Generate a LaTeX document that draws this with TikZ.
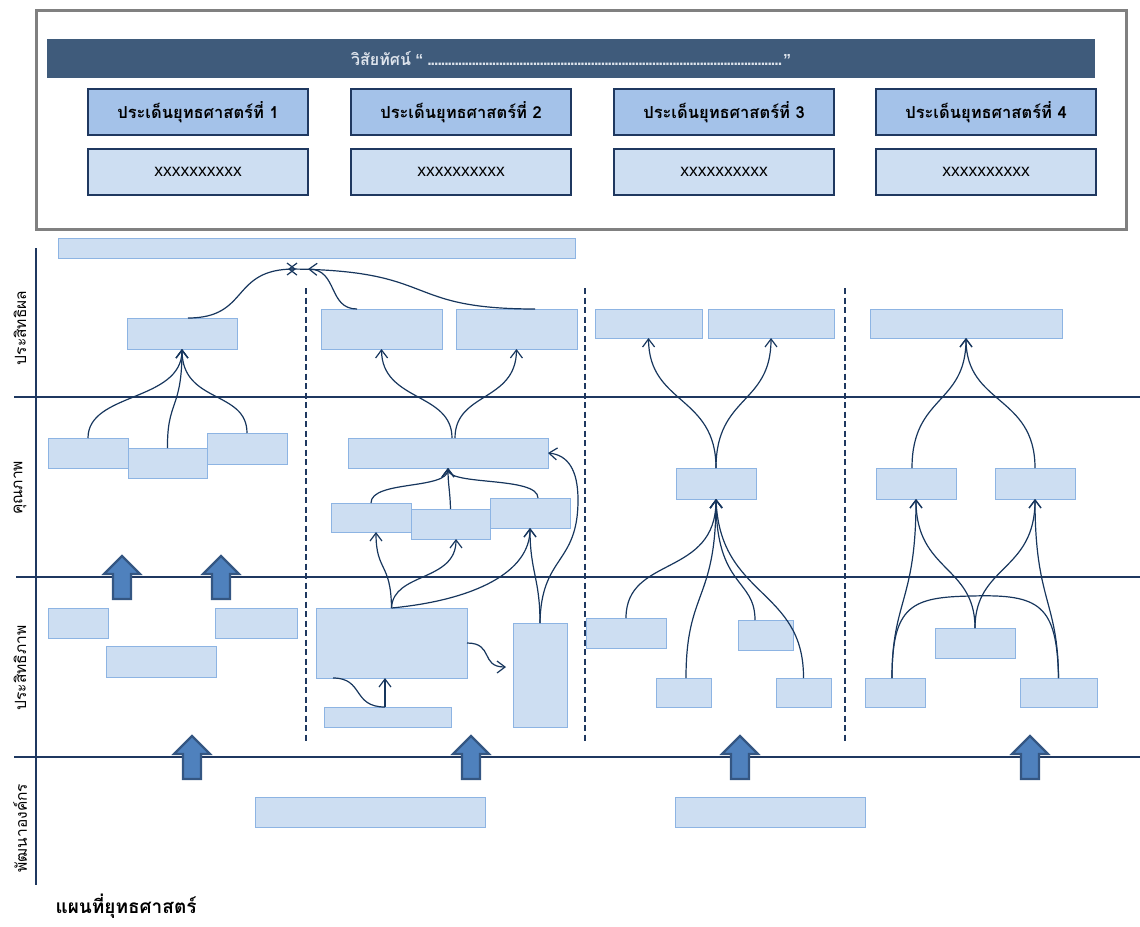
\documentclass[tikz,border=0pt]{standalone}
\usepackage{fontspec}
\setmainfont{Liberation Sans}
\newfontfamily\thaifont[Script=Thai]{Loma}
\usepackage{tikz}
\usetikzlibrary{arrows.meta, calc}
\definecolor{navy}{RGB}{31,56,96}
\definecolor{linkcol}{RGB}{23,54,93}
\definecolor{framegray}{RGB}{128,128,128}
\definecolor{banner}{RGB}{63,91,123}
\definecolor{bannertext}{RGB}{222,228,236}
\definecolor{headfill}{RGB}{164,194,233}
\definecolor{boxfill}{RGB}{205,222,242}
\definecolor{boxline}{RGB}{141,180,227}
\definecolor{arrowfill}{RGB}{79,129,189}
\definecolor{arrowline}{RGB}{52,86,130}

\begin{document}
\begin{tikzpicture}[x=1pt, y=-1pt,
    box/.style={draw=boxline, fill=boxfill, line width=1pt, inner sep=0pt, outer sep=0pt},
    headbox/.style={draw=navy, fill=headfill, line width=1.2pt, inner sep=0pt,
      minimum width=220pt, minimum height=46pt, font=\thaifont\bfseries\fontsize{16.5}{19}\selectfont},
    goalbox/.style={draw=navy, fill=boxfill, line width=1.2pt, inner sep=0pt,
      minimum width=220pt, minimum height=46pt, font=\fontsize{17.5}{20}\selectfont},
    rowlabel/.style={rotate=90, font=\thaifont\fontsize{15.5}{18}\selectfont},
    gridline/.style={draw=navy, line width=2.6pt},
    splitline/.style={draw=navy, line width=2.4pt, dash pattern=on 6pt off 3.5pt},
    link/.style={draw=linkcol, line width=1.2pt},
    arr/.style={link, -{Straight Barb[length=8pt,width=12pt]}},
    blockarrow/.style={fill=arrowfill, draw=arrowline, line width=2.2pt, line join=miter}
  ]
  \useasboundingbox (0,0) rectangle (1140,926);

  % Vision and strategic issues
  \node[draw=framegray, line width=3pt, minimum width=1090pt, minimum height=219pt, inner sep=0pt] (frame) at (581,119.5) {};
  \node[fill=banner, minimum width=1048pt, minimum height=39pt, inner sep=0pt, text=bannertext,
        font=\fontsize{16}{19}\selectfont\bfseries] (vision) at (571,58.5)
    {{\thaifont วิสัยทัศน์} “ \hbox to 355pt{\leaders\hbox to 3.4pt{\hss.\hss}\hfill}”};
  \foreach \i/\cx in {1/198, 2/461, 3/724, 4/986} {
    \node[headbox] (head\i) at (\cx,112) {ประเด็นยุทธศาสตร์ที่ \i};
    \node[goalbox] (goal\i) at (\cx,172) {xxxxxxxxxx};
  }

  % Grid of perspectives
  \draw[gridline] (36,248) -- (36,885);
  \draw[gridline] (14,397) -- (1140,397);
  \draw[gridline] (16,577) -- (1140,577);
  \draw[gridline] (14,757) -- (1140,757);
  \foreach \sx in {306, 585, 845}
    \draw[splitline] (\sx,288) -- (\sx,742);

  % Row labels
  \node[rowlabel] (lab1) at (20,328) {ประสิทธิผล};
  \node[rowlabel] (lab2) at (20,488) {คุณภาพ};
  \node[rowlabel] (lab3) at (20,668) {ประสิทธิภาพ};
  \node[rowlabel] (lab4) at (20,828) {พัฒนาองค์กร};

  \node[box, minimum width=517pt, minimum height=20pt] (topbar) at (316.5,248) {};

  % Issue 1
  \node[box, minimum width=110pt, minimum height=31pt] (e1) at (182,333.5) {};
  \node[box, minimum width=80pt, minimum height=30pt] (q1a) at (88,453) {};
  \node[box, minimum width=79pt, minimum height=30pt] (q1b) at (167.5,463) {};
  \node[box, minimum width=80pt, minimum height=31pt] (q1c) at (247,448.5) {};
  \node[box, minimum width=60pt, minimum height=30pt] (p1a) at (78,623) {};
  \node[box, minimum width=110pt, minimum height=31pt] (p1b) at (161,661.5) {};
  \node[box, minimum width=82pt, minimum height=30pt] (p1c) at (256,623) {};

  % Issue 2
  \node[box, minimum width=121pt, minimum height=40pt] (e2a) at (381.5,329) {};
  \node[box, minimum width=121pt, minimum height=40pt] (e2b) at (516.5,329) {};
  \node[box, minimum width=200pt, minimum height=30pt] (q2) at (448,453) {};
  \node[box, minimum width=80pt, minimum height=29pt] (q2a) at (371,517.5) {};
  \node[box, minimum width=79pt, minimum height=30pt] (q2b) at (450.5,524) {};
  \node[box, minimum width=80pt, minimum height=30pt] (q2c) at (530,513) {};
  \node[box, minimum width=151pt, minimum height=70pt] (p2) at (391.5,643) {};
  \node[box, minimum width=127pt, minimum height=20pt] (p2s) at (387.5,717) {};
  \node[box, minimum width=54pt, minimum height=104pt] (p2t) at (540,675) {};

  % Issue 3
  \node[box, minimum width=107pt, minimum height=29pt] (e3a) at (648.5,323.5) {};
  \node[box, minimum width=126pt, minimum height=29pt] (e3b) at (771,323.5) {};
  \node[box, minimum width=80pt, minimum height=31pt] (q3) at (716,483.5) {};
  \node[box, minimum width=80pt, minimum height=30pt] (p3a) at (626,633) {};
  \node[box, minimum width=55pt, minimum height=30pt] (p3b) at (765.5,635) {};
  \node[box, minimum width=55pt, minimum height=29pt] (p3c) at (683.5,692.5) {};
  \node[box, minimum width=55pt, minimum height=29pt] (p3d) at (803.5,692.5) {};

  % Issue 4
  \node[box, minimum width=192pt, minimum height=29pt] (e4) at (966,323.5) {};
  \node[box, minimum width=80pt, minimum height=31pt] (q4a) at (916,483.5) {};
  \node[box, minimum width=80pt, minimum height=31pt] (q4b) at (1035,483.5) {};
  \node[box, minimum width=80pt, minimum height=30pt] (p4a) at (975,643) {};
  \node[box, minimum width=60pt, minimum height=29pt] (p4b) at (895,692.5) {};
  \node[box, minimum width=77pt, minimum height=29pt] (p4c) at (1058.5,692.5) {};

  % Organisation development
  \node[box, minimum width=230pt, minimum height=30pt] (d1) at (370,812) {};
  \node[box, minimum width=190pt, minimum height=30pt] (d2) at (770,812) {};

  % Loose ends
  \coordinate (m1) at (296,269);
  \coordinate (m2) at (308,269);
  \coordinate (m3) at (288,269);
  \coordinate (p2end) at (506,667);

  % Links, issue 1
  \draw[arr] (q1a.north) .. controls (88,392) and (182,402) .. (e1.south);
  \draw[arr] (q1b.north) .. controls (167,400) and (182,410) .. (e1.south);
  \draw[arr] (q1c.north) .. controls (247,390) and (182,404) .. (e1.south);
  \draw[arr] ([xshift=6pt]e1.north) .. controls (250,318) and (230,269) .. (m1);

  % Links, issue 2
  \draw[arr] ([xshift=-24.5pt]e2a.north) .. controls (328,309) and (338,270) .. (m2);
  \draw[arr] ([xshift=18.5pt]e2b.north) .. controls (400,309) and (440,270) .. (m3);
  \draw[arr] ([xshift=4pt]q2.north) .. controls (452,392) and (382,402) .. (e2a.south);
  \draw[arr] ([xshift=7pt]q2.north) .. controls (455,392) and (516,402) .. (e2b.south);
  \draw[arr] (q2a.north) .. controls (371,480) and (448,490) .. (q2.south);
  \draw[arr] (q2b.north) .. controls (450,490) and (448,485) .. (q2.south);
  \draw[arr] ([xshift=8pt]q2c.north) .. controls (538,476) and (448,486) .. (q2.south);
  \draw[arr] (p2.north) .. controls (391,562) and (376,572) .. ([xshift=5pt]q2a.south);
  \draw[arr] (p2.north) .. controls (393,572) and (456,582) .. ([xshift=5.5pt]q2b.south);
  \draw[arr] (p2.north) .. controls (475,600) and (530,572) .. (q2c.south);
  \draw[arr] (p2t.north) .. controls (540,578) and (530,572) .. (q2c.south);
  \draw[arr] (p2t.north) .. controls (541,555) and (578,565) .. (578,500)
    .. controls (578,470) and (568,455) .. (q2.east);
  \draw[arr] (p2.east) .. controls (494,643) and (480,667) .. (p2end);
  \draw[arr] ([xshift=-2.5pt]p2s.north) -- ([xshift=-6.5pt]p2.south);
  \draw[link] ([xshift=-58.5pt]p2.south) .. controls (364,678) and (352,707) .. ([xshift=-2.5pt]p2s.north);

  % Links, issue 3
  \draw[arr] (q3.north) .. controls (716,395) and (649,405) .. (e3a.south);
  \draw[arr] (q3.north) .. controls (716,395) and (771,405) .. (e3b.south);
  \draw[arr] (p3a.north) .. controls (626,555) and (716,578) .. (q3.south);
  \draw[arr] ([xshift=2.5pt]p3c.north) .. controls (686,590) and (716,602) .. (q3.south);
  \draw[arr] ([xshift=-10.5pt]p3b.north) .. controls (755,578) and (716,588) .. (q3.south);
  \draw[arr] (p3d.north) .. controls (804,588) and (720,598) .. (q3.south);

  % Links, issue 4
  \draw[arr] ([xshift=-4pt]q4a.north) .. controls (912,395) and (966,405) .. (e4.south);
  \draw[arr] (q4b.north) .. controls (1035,395) and (966,405) .. (e4.south);
  \draw[arr] ([xshift=-3pt]p4b.north) .. controls (892,600) and (916,602) .. (q4a.south);
  \draw[arr] (p4c.north) .. controls (1058,600) and (1035,602) .. (q4b.south);
  \draw[arr] (p4a.north) .. controls (975,565) and (916,572) .. (q4a.south);
  \draw[arr] (p4a.north) .. controls (975,565) and (1035,572) .. (q4b.south);
  \draw[link] ([xshift=-3pt]p4b.north) .. controls (892,605) and (912,597) .. (972,596)
    .. controls (1040,594) and (1057,605) .. (p4c.north);

  % Block arrows between rows
  \foreach \bx/\by in {122/556, 221/556, 192/736, 471/736, 740/736, 1030/736}
    \draw[blockarrow] (\bx,\by) -- ++(18,18) -- ++(-9,0) -- ++(0,25) -- ++(-18,0)
      -- ++(0,-25) -- ++(-9,0) -- cycle;

  % Caption
  \node[anchor=west, font=\thaifont\bfseries\fontsize{19}{22}\selectfont] (caption) at (52,906) {แผนที่ยุทธศาสตร์};

\end{tikzpicture}
\end{document}
